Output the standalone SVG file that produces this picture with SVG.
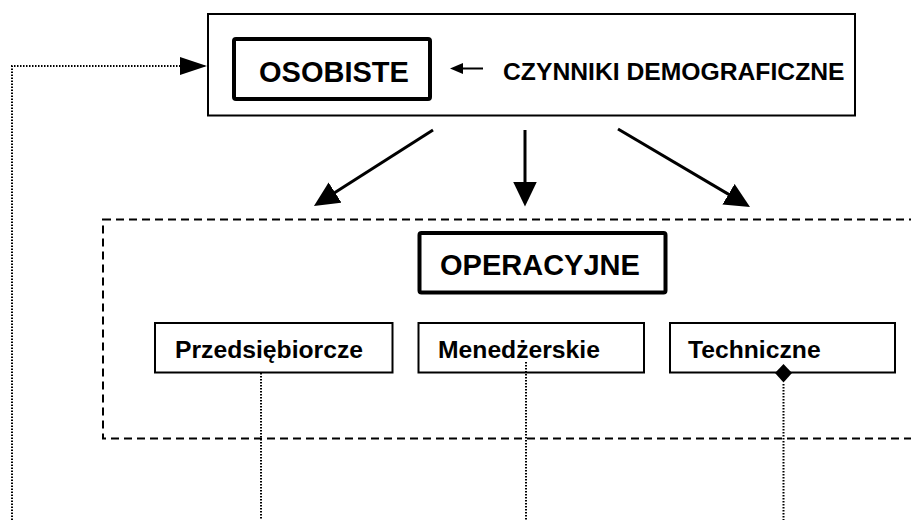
<svg xmlns="http://www.w3.org/2000/svg" width="911" height="520" viewBox="0 0 911 520">
  <style>
    text { font-family: "Liberation Sans", Arial, sans-serif; font-weight: bold; fill: #000; }
    .big { font-size: 29px; }
    .mid { font-size: 24.7px; }
    .frame { fill: #fff; stroke: #000; stroke-width: 2; }
    .heavy { fill: #fff; stroke: #000; stroke-width: 4; stroke-linejoin: round; }
    .group { fill: none; stroke: #000; stroke-width: 2; stroke-dasharray: 8 5; }
    .solid { fill: none; stroke: #000; stroke-width: 3; }
    .thin { fill: none; stroke: #000; stroke-width: 2; }
    .dots { fill: none; stroke: #000; stroke-width: 2; stroke-dasharray: 1.5 1.5; }
  </style>
  <defs>
    <marker id="headLarge" markerUnits="userSpaceOnUse" markerWidth="25" markerHeight="24" refX="15" refY="12" orient="auto">
      <path d="M0,0 L25,12 L0,24 Z" fill="#000"/>
    </marker>
    <marker id="headSmall" markerUnits="userSpaceOnUse" markerWidth="13" markerHeight="11" refX="9" refY="5.5" orient="auto">
      <path d="M0,0 L13,5.5 L0,11 Z" fill="#000"/>
    </marker>
    <marker id="headFeedback" markerUnits="userSpaceOnUse" markerWidth="27" markerHeight="18" refX="26" refY="9" orient="auto">
      <path d="M0,0 L27,9 L0,18 Z" fill="#000"/>
    </marker>
  </defs>

  <!-- operational group frame -->
  <rect class="group" x="103" y="219.5" width="815" height="219"/>

  <g id="osobiste">
    <rect class="frame" x="208" y="14" width="647" height="101.5"/>
    <rect class="heavy" x="234" y="39" width="196" height="60" rx="2"/>
    <text class="big" x="259" y="81.5">OSOBISTE</text>
  </g>

  <g id="czynniki-demograficzne">
    <text class="mid" x="503" y="80">CZYNNIKI DEMOGRAFICZNE</text>
  </g>

  <g id="operacyjne">
    <rect class="heavy" x="419.5" y="233" width="246" height="59.5" rx="2"/>
    <text class="big" x="440" y="275">OPERACYJNE</text>
  </g>

  <g id="przedsiebiorcze">
    <rect class="frame" x="155" y="323" width="237.5" height="49.5"/>
    <text class="mid" x="175" y="357.5">Przedsiębiorcze</text>
  </g>

  <g id="menedzerskie">
    <rect class="frame" x="418.5" y="323" width="225.5" height="49.5"/>
    <text class="mid" x="438" y="357.5">Menedżerskie</text>
  </g>

  <g id="techniczne">
    <rect class="frame" x="670" y="323" width="225" height="49.5"/>
    <text class="mid" x="688" y="357.5">Techniczne</text>
  </g>

  <g id="connectors">
    <!-- demographic factors into personal -->
    <line class="thin" x1="483" y1="68.5" x2="454" y2="68.5" marker-end="url(#headSmall)"/>
    <!-- personal to operational -->
    <line class="solid" x1="433" y1="130" x2="322.4" y2="200.6" marker-end="url(#headLarge)"/>
    <line class="solid" x1="525" y1="130" x2="525" y2="196.5" marker-end="url(#headLarge)"/>
    <line class="solid" x1="618" y1="129" x2="741.4" y2="201.9" marker-end="url(#headLarge)"/>
    <!-- feedback loop -->
    <polyline class="dots" points="12,520 12,66 206,66" marker-end="url(#headFeedback)"/>
    <!-- outgoing dotted links -->
    <line class="dots" x1="261" y1="373" x2="261" y2="520"/>
    <line class="dots" x1="526" y1="362" x2="526" y2="520"/>
    <line class="dots" x1="783.5" y1="384" x2="783.5" y2="520"/>
    <path d="M783.5,364 L792,373 L783.5,382.5 L775,373 Z" fill="#000"/>
  </g>
</svg>
